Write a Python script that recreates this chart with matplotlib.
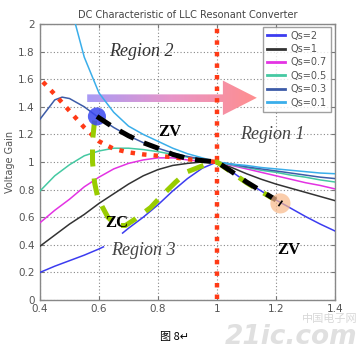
import numpy as np
import matplotlib
matplotlib.use("Agg")
import matplotlib.pyplot as plt
from matplotlib.patches import Polygon
from matplotlib.colors import LinearSegmentedColormap

# ---------------- data ----------------
fn_full = [0.40, 0.45, 0.50, 0.55, 0.60, 0.65, 0.70, 0.75, 0.80, 0.85, 0.90, 0.95, 1.00,
           1.05, 1.10, 1.15, 1.20, 1.25, 1.30, 1.35, 1.40]

fn_q2 = [0.40, 0.45, 0.50, 0.55, 0.60, 0.615, np.nan, 0.68, 0.70, 0.75, 0.80, 0.85, 0.90,
         0.95, 1.00, 1.05, 1.10, 1.15, 1.20, 1.25, 1.30, 1.35, 1.40]
gain_q2 = [0.20, 0.245, 0.285, 0.325, 0.37, 0.385, np.nan, 0.485, 0.52, 0.60, 0.69, 0.79, 0.88,
           0.955, 1.00, 0.93, 0.855, 0.79, 0.725, 0.665, 0.605, 0.55, 0.50]

gain_q1 = [0.39, 0.47, 0.55, 0.62, 0.70, 0.77, 0.84, 0.90, 0.945, 0.975, 0.99, 1.0, 1.0,
           0.96, 0.915, 0.875, 0.84, 0.81, 0.78, 0.75, 0.72]
gain_q07 = [0.56, 0.65, 0.73, 0.82, 0.89, 0.95, 0.99, 1.015, 1.03, 1.03, 1.015, 1.005, 1.0,
            0.975, 0.95, 0.925, 0.90, 0.875, 0.85, 0.83, 0.805]
gain_q05 = [0.79, 0.90, 0.98, 1.045, 1.08, 1.10, 1.10, 1.09, 1.075, 1.055, 1.035, 1.015, 1.0,
            0.98, 0.96, 0.94, 0.925, 0.905, 0.89, 0.87, 0.855]

fn_q03 = [0.40, 0.45, 0.475, 0.50, 0.55, 0.60, 0.65, 0.70, 0.75, 0.80, 0.85, 0.90, 0.95, 1.00,
          1.05, 1.10, 1.15, 1.20, 1.25, 1.30, 1.35, 1.40]
gain_q03 = [1.31, 1.45, 1.47, 1.46, 1.40, 1.32, 1.25, 1.19, 1.14, 1.10, 1.065, 1.04, 1.02, 1.0,
            0.985, 0.965, 0.95, 0.935, 0.92, 0.905, 0.89, 0.88]

fn_q01 = [0.52, 0.55, 0.60, 0.65, 0.70, 0.75, 0.80, 0.85, 0.90, 0.95, 1.00,
          1.05, 1.10, 1.15, 1.20, 1.25, 1.30, 1.35, 1.40]
gain_q01 = [2.0, 1.76, 1.50, 1.36, 1.26, 1.20, 1.15, 1.10, 1.06, 1.03, 1.0,
            0.985, 0.975, 0.96, 0.95, 0.94, 0.93, 0.92, 0.915]

series_labels = ["Qs=2", "Qs=1", "Qs=0.7", "Qs=0.5", "Qs=0.3", "Qs=0.1"]

# peak-gain locus (red dotted)
fn_peak = [0.41, 0.45, 0.50, 0.55, 0.60, 0.65, 0.70, 0.75, 0.80, 0.85, 0.90, 0.95, 1.00]
gain_peak = [1.58, 1.49, 1.37, 1.25, 1.15, 1.095, 1.07, 1.055, 1.045, 1.035, 1.02, 1.01, 1.0]

# ZV boundary (black dashed)
fn_zv = [0.593, 0.65, 0.70, 0.75, 0.80, 0.85, 0.90, 0.95, 1.00, 1.05, 1.10, 1.15, 1.20]
gain_zv = [1.33, 1.25, 1.19, 1.14, 1.10, 1.055, 1.025, 1.01, 1.0, 0.93, 0.855, 0.79, 0.725]

# ZC boundary (green dashed)
fn_zc = [0.585, 0.578, 0.578, 0.585, 0.595, 0.61, 0.63, 0.66, 0.69, 0.725, 0.775, 0.81, 0.86,
         0.90, 0.96, 1.00, 1.05, 1.10, 1.15, 1.19]
gain_zc = [1.30, 1.15, 1.00, 0.85, 0.75, 0.68, 0.60, 0.54, 0.54, 0.59, 0.67, 0.75, 0.855,
           0.93, 0.98, 1.0, 0.925, 0.85, 0.785, 0.735]

xticks = [0.4, 0.6, 0.8, 1.0, 1.2, 1.4]
xticklabels = ["0.4", "0.6", "0.8", "1", "1.2", "1.4"]
yticks = [0, 0.2, 0.4, 0.6, 0.8, 1.0, 1.2, 1.4, 1.6, 1.8, 2.0]
yticklabels = ["0", "0.2", "0.4", "0.6", "0.8", "1", "1.2", "1.4", "1.6", "1.8", "2"]

# ---------------- figure ----------------
fig = plt.figure(figsize=(3.63, 3.5), dpi=100)
ax = fig.add_axes([40/363, 1-300/350, 295/363, 276/350])

cols = ["#3c3cf0", "#333333", "#e333e3", "#45c9a2", "#3d5ca8", "#3aaeea"]
lw = 1.1
ax.plot(fn_q2, gain_q2, color=cols[0], lw=lw, label=series_labels[0], zorder=3)
ax.plot(fn_full, gain_q1, color=cols[1], lw=lw, label=series_labels[1], zorder=3)
ax.plot(fn_full, gain_q07, color=cols[2], lw=lw, label=series_labels[2], zorder=3)
ax.plot(fn_full, gain_q05, color=cols[3], lw=lw, label=series_labels[3], zorder=3)
ax.plot(fn_q03, gain_q03, color=cols[4], lw=lw, label=series_labels[4], zorder=3)
ax.plot(fn_q01, gain_q01, color=cols[5], lw=lw, label=series_labels[5], zorder=3)

# gradient arrow
verts = [(0.56, 1.435), (1.02, 1.435), (1.02, 1.34), (1.135, 1.465),
         (1.02, 1.59), (1.02, 1.49), (0.56, 1.49)]
poly = Polygon(verts, closed=True, facecolor='none', edgecolor='none',
               transform=ax.transData)
ax.add_patch(poly)
grad = np.linspace(0, 1, 256).reshape(1, -1)
cmap = LinearSegmentedColormap.from_list('g', ['#a99bf5', '#e895c8', '#ff8e8e'])
im = ax.imshow(grad, extent=(0.56, 1.135, 1.34, 1.59), aspect='auto', cmap=cmap,
               zorder=2.5, interpolation='bilinear')
im.set_clip_path(poly)

# red dotted lines
red = "#ff3a16"
ax.plot([1.0, 1.0], [0.005, 2], color=red, lw=3.2, ls=(0, (1, 1.6)), zorder=4)
ax.plot(fn_peak, gain_peak, color=red, lw=3.2, ls=(0, (1, 1.6)), zorder=4)

# boundaries
ax.plot(fn_zc, gain_zc, color="#99cc00", lw=3.6, ls=(0, (3.4, 2.4)), zorder=5)
ax.plot(fn_zv, gain_zv, color="black", lw=3.6, ls=(0, (3.2, 2.2)), zorder=6)

# circles
ax.scatter([0.593], [1.33], s=170, color="#3a48f0", alpha=0.85, zorder=5.5, edgecolors='none')
ax.scatter([1.215], [0.70], s=210, color="#f8b888", alpha=0.7, zorder=7, edgecolors='none')
ax.plot([1.21, 1.22], [0.685, 0.715], color='black', lw=1.2, zorder=8)

# texts
ax.text(0.742, 1.80, "Region 2", family="Liberation Serif", style="italic",
        fontsize=13, color="#333333", ha="center", va="center", zorder=9)
ax.text(1.186, 1.196, "Region 1", family="Liberation Serif", style="italic",
        fontsize=13, color="#444444", ha="center", va="center", zorder=9)
ax.text(0.749, 0.36, "Region 3", family="Liberation Serif", style="italic",
        fontsize=13, color="#444444", ha="center", va="center", zorder=9)
ax.text(0.84, 1.215, "ZV", family="Liberation Serif", weight="bold",
        fontsize=12, color="black", ha="center", va="center", zorder=9)
ax.text(1.245, 0.36, "ZV", family="Liberation Serif", weight="bold",
        fontsize=12, color="black", ha="center", va="center", zorder=9)
ax.text(0.66, 0.555, "ZC", family="Liberation Serif", weight="bold",
        fontsize=12, color="black", ha="center", va="center", zorder=9)

ax.set_xlim(0.4, 1.4)
ax.set_ylim(0, 2)
ax.set_xticks(xticks)
ax.set_xticklabels(xticklabels)
ax.set_yticks(yticks)
ax.set_yticklabels(yticklabels)
ax.grid(True, color="#888888", lw=0.8, ls=(0, (1, 2)))
ax.set_axisbelow(True)
ax.tick_params(direction='in', length=3, labelsize=7.5, labelcolor="#555555",
               color="#777777", top=True, right=True, pad=2)
ax.tick_params(axis='y', pad=4)
ax.tick_params(axis='x', pad=3)
for s in ax.spines.values():
    s.set_color("#888888")
    s.set_linewidth(1.0)

ax.set_title("DC Characteristic of LLC Resonant Converter", fontsize=7,
             color="#444444", pad=4)
ax.set_ylabel("Voltage Gain", fontsize=7, color="#555555", labelpad=2)

leg = ax.legend(loc="upper right", bbox_to_anchor=(0.985, 0.99), borderaxespad=0,
                fontsize=7, frameon=True, fancybox=False, handlelength=1.8,
                labelspacing=0.35, borderpad=0.4, handletextpad=0.6)
leg.get_frame().set_edgecolor("#888888")
leg.get_frame().set_linewidth(1.0)
for t in leg.get_texts():
    t.set_color("#555555")
for h in leg.get_lines():
    h.set_linewidth(2.0)
leg.set_zorder(10)

# watermark and caption
fig.text(0.985, 0.0, "21ic.com", fontsize=19, color="#e0e0e0", weight="bold",
         style="italic", ha="right", va="bottom", family="DejaVu Sans", zorder=0)
fig.text(0.985, 0.075, "中国电子网", fontsize=8, color="#d8d8d8",
         family=["Noto Sans CJK SC", "DejaVu Sans"], ha="right", va="bottom")
fig.text(175/363, 1-337/350, "图 8↵", fontsize=8, color="black",
         family=["Noto Sans CJK SC", "DejaVu Sans"], ha="center", va="center")

fig.savefig("out.png", dpi=100)
